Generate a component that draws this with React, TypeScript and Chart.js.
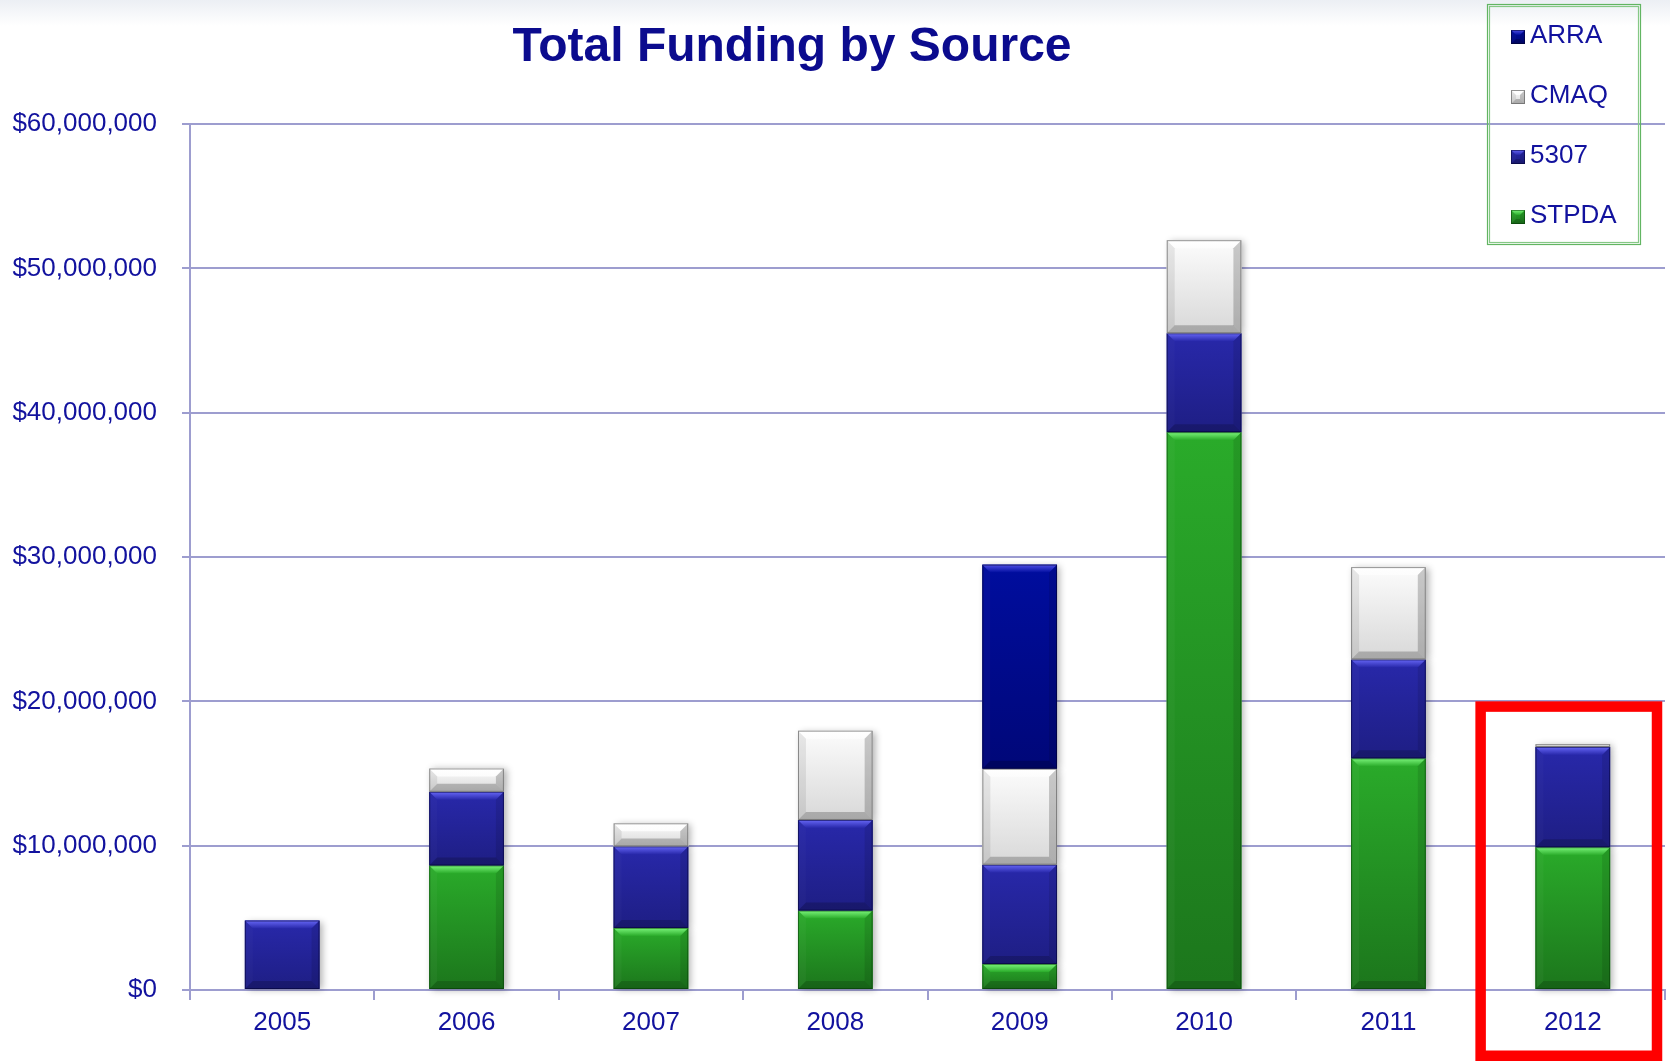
import React, { useEffect, useRef } from 'react';
import { Chart, registerables } from 'chart.js';

Chart.register(...registerables);

// ---------- data ----------
const categories = ['2005', '2006', '2007', '2008', '2009', '2010', '2011', '2012'];
const stpdaValues = [0, 8630000, 4300000, 5500000, 1800000, 38650000, 16050000, 9890000];
const fund5307Values = [4810000, 5100000, 5650000, 6280000, 6880000, 6850000, 6850000, 6950000];
const cmaqValues = [0, 1620000, 1600000, 6190000, 6650000, 6450000, 6400000, 200000];
const arraValues = [0, 0, 0, 0, 14140000, 0, 0, 0];
const seriesLabels = ['STPDA', '5307', 'CMAQ', 'ARRA'];
const legendOrder = ['ARRA', 'CMAQ', '5307', 'STPDA'];
const yMin = 0;
const yMax = 60000000;
const yStep = 10000000;
const titleText = 'Total Funding by Source';
const highlightCategory = '2012';
const highlightTopValue = 20000000;

// ---------- styles ----------
const FONT = "'Liberation Sans', Arial, Helvetica, sans-serif";
const TEXT_COLOR = '#12129e';
const TITLE_COLOR = '#0b0b8e';
const GRID_COLOR = '#9d9dcf';

type BevelStyle = {
  base: string;
  gradTop: string;
  gradBottom: string;
  light: string;
  left: string;
  right: string;
  bottom: string;
  edge: string;
};

const STYLES: Record<string, BevelStyle> = {
  STPDA: {
    base: '#26a026',
    gradTop: '#2aab2a',
    gradBottom: '#1c761c',
    light: '#7cf67c',
    left: 'rgba(255,255,255,0.03)',
    right: 'rgba(0,0,0,0.10)',
    bottom: 'rgba(0,0,0,0.16)',
    edge: 'rgba(0,50,0,0.5)',
  },
  '5307': {
    base: '#24249e',
    gradTop: '#2828aa',
    gradBottom: '#1e1e84',
    light: '#6767f6',
    left: 'rgba(255,255,255,0.02)',
    right: 'rgba(0,0,0,0.10)',
    bottom: 'rgba(0,0,0,0.18)',
    edge: 'rgba(0,0,50,0.55)',
  },
  CMAQ: {
    base: '#ececec',
    gradTop: '#fcfcfc',
    gradBottom: '#d8d8d8',
    light: '#ffffff',
    left: 'rgba(0,0,0,0.08)',
    right: 'rgba(0,0,0,0.20)',
    bottom: 'rgba(0,0,0,0.22)',
    edge: 'rgba(100,100,100,0.7)',
  },
  ARRA: {
    base: '#000c92',
    gradTop: '#000d9e',
    gradBottom: '#000778',
    light: '#5050e6',
    left: 'rgba(255,255,255,0.02)',
    right: 'rgba(0,0,0,0.10)',
    bottom: 'rgba(0,0,0,0.2)',
    edge: 'rgba(0,0,40,0.55)',
  },
};

function poly(ctx: CanvasRenderingContext2D, pts: number[][], fill: string | CanvasGradient) {
  ctx.beginPath();
  ctx.moveTo(pts[0][0], pts[0][1]);
  for (let i = 1; i < pts.length; i++) ctx.lineTo(pts[i][0], pts[i][1]);
  ctx.closePath();
  ctx.fillStyle = fill;
  ctx.fill();
}

function drawBevel(
  ctx: CanvasRenderingContext2D,
  l: number,
  t: number,
  r: number,
  b: number,
  s: BevelStyle,
  bvMax: number
) {
  const w = r - l;
  const h = b - t;
  if (h < 0.5 || w < 0.5) return;
  const bv = Math.min(bvMax, h / 2, w / 2);
  const g = ctx.createLinearGradient(0, t, 0, b);
  g.addColorStop(0, s.gradTop);
  g.addColorStop(1, s.gradBottom);
  ctx.fillStyle = g;
  ctx.fillRect(l, t, w, h);
  const tg = ctx.createLinearGradient(0, t, 0, t + bv);
  tg.addColorStop(0, s.light);
  tg.addColorStop(1, s.gradTop);
  poly(ctx, [[l, t], [r, t], [r - bv, t + bv], [l + bv, t + bv]], tg);
  poly(ctx, [[l, t], [l + bv, t + bv], [l + bv, b - bv], [l, b]], s.left);
  poly(ctx, [[r, t], [r - bv, t + bv], [r - bv, b - bv], [r, b]], s.right);
  poly(ctx, [[l, b], [l + bv, b - bv], [r - bv, b - bv], [r, b]], s.bottom);
  ctx.strokeStyle = s.edge;
  ctx.lineWidth = 1;
  ctx.strokeRect(l + 0.5, t + 0.5, w - 1, h - 1);
}

function barRect(el: any) {
  const p = el.getProps(['x', 'y', 'base', 'width'], true);
  const l = p.x - p.width / 2;
  const r = p.x + p.width / 2;
  const t = Math.min(p.y, p.base);
  const b = Math.max(p.y, p.base);
  return { l, r, t, b };
}

const bevelBarsPlugin = {
  id: 'bevelBars',
  beforeDatasetsDraw(chart: any) {
    const ctx: CanvasRenderingContext2D = chart.ctx;
    ctx.save();
    chart.data.datasets.forEach((ds: any, di: number) => {
      const meta = chart.getDatasetMeta(di);
      meta.data.forEach((el: any) => {
        const { l, r, t, b } = barRect(el);
        if (b - t < 0.5) return;
        ctx.save();
        ctx.shadowColor = 'rgba(0,0,0,0.30)';
        ctx.shadowBlur = 7;
        ctx.shadowOffsetX = 3;
        ctx.shadowOffsetY = 1;
        ctx.fillStyle = '#ffffff';
        ctx.fillRect(l, t, r - l, b - t);
        ctx.restore();
      });
    });
    ctx.restore();
  },
  afterDatasetsDraw(chart: any) {
    const ctx: CanvasRenderingContext2D = chart.ctx;
    ctx.save();
    chart.data.datasets.forEach((ds: any, di: number) => {
      const meta = chart.getDatasetMeta(di);
      const style = STYLES[ds.label];
      meta.data.forEach((el: any) => {
        const { l, r, t, b } = barRect(el);
        drawBevel(ctx, l, t, r, b, style, 8);
      });
    });
    ctx.restore();
  },
};

const decorPlugin = {
  id: 'decor',
  afterDraw(chart: any) {
    const ctx: CanvasRenderingContext2D = chart.ctx;
    const area = chart.chartArea;
    const xScale = chart.scales.x;
    const yScale = chart.scales.y;
    ctx.save();

    // title
    ctx.font = `bold 48px ${FONT}`;
    ctx.fillStyle = TITLE_COLOR;
    ctx.textAlign = 'center';
    ctx.textBaseline = 'alphabetic';
    ctx.fillText(titleText, 792, 61);

    // legend
    const boxRight = area.right - 24;
    const boxLeft = boxRight - 154;
    const boxTop = 4;
    const boxBottom = 245;
    ctx.strokeStyle = '#62b562';
    ctx.lineWidth = 1.2;
    ctx.strokeRect(boxLeft + 0.5, boxTop + 0.5, boxRight - boxLeft - 1, boxBottom - boxTop - 1);
    ctx.strokeStyle = '#86c886';
    ctx.strokeRect(boxLeft + 2.5, boxTop + 2.5, boxRight - boxLeft - 5, boxBottom - boxTop - 5);

    ctx.font = `26px ${FONT}`;
    ctx.textAlign = 'left';
    ctx.textBaseline = 'middle';
    legendOrder.forEach((lbl, i) => {
      const cy = 36 + i * 60;
      const mx = boxLeft + 24;
      const my = cy + 1;
      drawBevel(ctx, mx, my - 7, mx + 14, my + 7, STYLES[lbl], 5);
      ctx.fillStyle = TEXT_COLOR;
      ctx.fillText(lbl, boxLeft + 43, cy);
    });

    // highlight box
    const idx = categories.indexOf(highlightCategory);
    const catW = xScale.width / categories.length;
    const lw = 10.5;
    const left = xScale.getPixelForValue(idx) - catW / 2;
    const right = area.right - 8;
    const top = yScale.getPixelForValue(highlightTopValue) + lw / 2;
    const bottom = chart.height - lw / 2;
    ctx.strokeStyle = '#ff0000';
    ctx.lineWidth = lw;
    ctx.lineJoin = 'miter';
    ctx.strokeRect(left, top, right - left, bottom - top);

    ctx.restore();
  },
};

export default function App() {
  const canvasRef = useRef<HTMLCanvasElement>(null);

  useEffect(() => {
    if (!canvasRef.current) return;
    const seriesValues: Record<string, number[]> = {
      STPDA: stpdaValues,
      '5307': fund5307Values,
      CMAQ: cmaqValues,
      ARRA: arraValues,
    };
    const chart = new Chart(canvasRef.current, {
      type: 'bar',
      data: {
        labels: categories,
        datasets: seriesLabels.map((lbl) => ({
          label: lbl,
          data: seriesValues[lbl],
          backgroundColor: STYLES[lbl].base,
          borderWidth: 0,
          categoryPercentage: 1,
          barPercentage: 0.405,
        })),
      },
      options: {
        animation: false,
        responsive: true,
        maintainAspectRatio: false,
        devicePixelRatio: 1,
        layout: { padding: { top: 124, right: 5, bottom: 0, left: 0 } },
        plugins: {
          legend: { display: false },
          title: { display: false },
          tooltip: { enabled: false },
        },
        scales: {
          x: {
            stacked: true,
            offset: true,
            grid: {
              drawOnChartArea: false,
              drawTicks: true,
              tickLength: 10,
              color: GRID_COLOR,
              lineWidth: 2,
              offset: true,
            },
            border: { display: true, color: GRID_COLOR, width: 2 },
            ticks: {
              color: TEXT_COLOR,
              font: { family: FONT, size: 26 },
              padding: 7,
              maxRotation: 0,
            },
            afterFit(scale: any) {
              scale.height = 71;
            },
          },
          y: {
            stacked: true,
            min: yMin,
            max: yMax,
            grid: {
              color: GRID_COLOR,
              lineWidth: 2,
              drawTicks: true,
              tickLength: 8,
            },
            border: { display: true, color: GRID_COLOR, width: 2 },
            ticks: {
              stepSize: yStep,
              color: TEXT_COLOR,
              font: { family: FONT, size: 26 },
              padding: 25,
              callback: (v: any) => '$' + Number(v).toLocaleString('en-US'),
            },
            afterFit(scale: any) {
              scale.width = 190;
            },
          },
        },
      },
      plugins: [bevelBarsPlugin, decorPlugin],
    } as any);
    return () => chart.destroy();
  }, []);

  return (
    <div
      style={{
        position: 'fixed',
        left: 0,
        top: 0,
        width: 1670,
        height: 1061,
        background: 'linear-gradient(#eceff4 0px, #ffffff 26px)',
      }}
    >
      <canvas ref={canvasRef} style={{ display: 'block' }} />
    </div>
  );
}
